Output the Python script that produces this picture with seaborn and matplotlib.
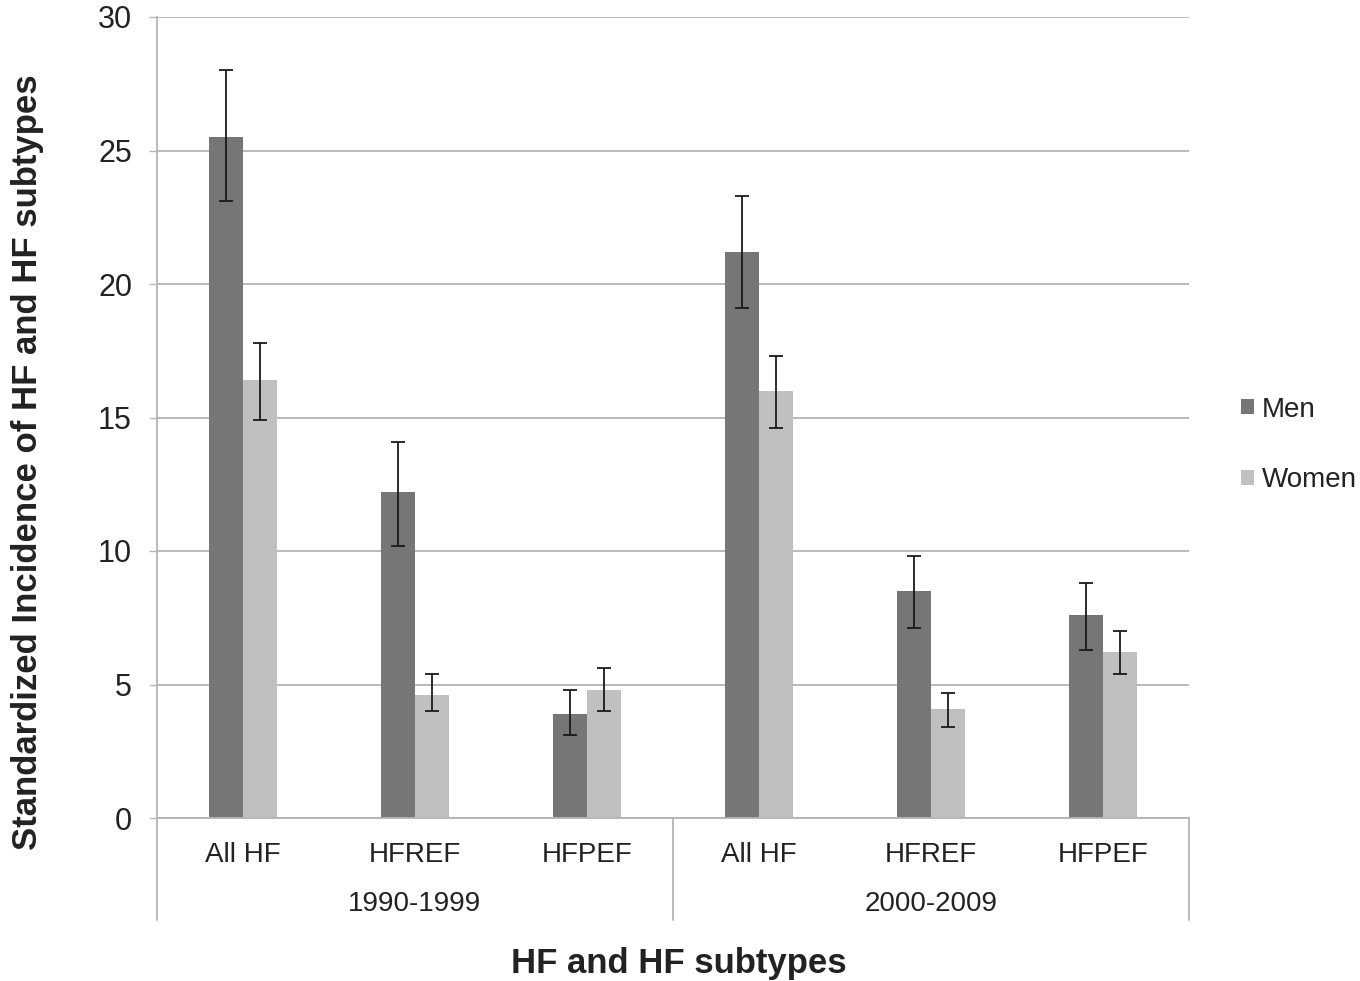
import matplotlib
matplotlib.use("Agg")
import matplotlib.pyplot as plt
import seaborn as sns
import pandas as pd
from matplotlib.transforms import blended_transform_factory

# ---- data ----
periods = ["1990-1999", "2000-2009"]
subtypes = ["All HF", "HFREF", "HFPEF"]
sexes = ["Men", "Women"]
men_values = [25.5, 12.2, 3.9, 21.2, 8.5, 7.6]
men_low = [23.1, 10.2, 3.1, 19.1, 7.1, 6.3]
men_high = [28.0, 14.1, 4.8, 23.3, 9.8, 8.8]
women_values = [16.4, 4.6, 4.8, 16.0, 4.1, 6.2]
women_low = [14.9, 4.0, 4.0, 14.6, 3.4, 5.4]
women_high = [17.8, 5.4, 5.6, 17.3, 4.7, 7.0]
y_ticks = [0, 5, 10, 15, 20, 25, 30]

colors = {"Men": "#767676", "Women": "#c0c0c0"}

keys = [f"{p}|{s}" for p in periods for s in subtypes]
rows = []
for i, k in enumerate(keys):
    rows.append({"key": k, "sex": "Men", "value": men_values[i], "lo": men_low[i], "hi": men_high[i]})
    rows.append({"key": k, "sex": "Women", "value": women_values[i], "lo": women_low[i], "hi": women_high[i]})
df = pd.DataFrame(rows)

sns.set_theme(style="white")
plt.rcParams["font.family"] = ["Liberation Sans", "DejaVu Sans"]

fig = plt.figure(figsize=(13.6, 9.81), dpi=100)
ax = fig.add_axes([157/1360, 1-818/981, (1189-157)/1360, (818-17)/981])

sns.barplot(data=df, x="key", y="value", hue="sex", order=keys, hue_order=sexes,
            palette=colors, width=0.4, errorbar=None, ax=ax, legend=True,
            saturation=1, linewidth=0)

# error bars from bar positions
for sex, cont in zip(sexes, ax.containers):
    sub = df[df.sex == sex].set_index("key").loc[keys]
    xs = [p.get_x() + p.get_width()/2 for p in cont.patches]
    vals = sub["value"].values
    lo = vals - sub["lo"].values
    hi = sub["hi"].values - vals
    ax.errorbar(xs, vals, yerr=[lo, hi], fmt="none", ecolor="#1a1a1a",
                elinewidth=1.3, capsize=5, capthick=1.3, zorder=5)

txt = "#222222"
ax.set_ylim(0, 30)
ax.set_xlim(-0.5, len(keys) - 0.5)
ax.set_yticks(y_ticks)
ax.set_yticklabels([str(t) for t in y_ticks], fontsize=22, color=txt)
ax.yaxis.grid(True, color="#b4b4b4", linewidth=1.3)
ax.set_axisbelow(True)
ax.set_xticks(range(len(keys)))
ax.set_xticklabels([k.split("|")[1] for k in keys], fontsize=20, color=txt)
ax.tick_params(axis="x", length=0, pad=17)
ax.tick_params(axis="y", length=6, width=1, color="#b4b4b4", left=True, pad=12)
for s in ["top", "right"]:
    ax.spines[s].set_visible(False)
for s in ["left", "bottom"]:
    ax.spines[s].set_color("#b4b4b4")
    ax.spines[s].set_linewidth(1.3)
ax.set_xlabel("")
ax.set_ylabel("")

# group separators and labels
trans = blended_transform_factory(ax.transData, ax.transAxes)
drop = (920 - 818) / 801
for xv in [-0.5, 2.5, 5.5]:
    ax.plot([xv, xv], [0, -drop], transform=trans, color="#b4b4b4", linewidth=1.3, clip_on=False)
for gi, p in enumerate(periods):
    ax.text(gi*3 + 1, -(904 - 818)/801, p, transform=trans, ha="center", va="center",
            fontsize=20, color=txt)

fig.text(679/1360, 1 - 963/981, "HF and HF subtypes",
         ha="center", va="center", fontsize=25, fontweight="bold", color=txt)
fig.text(28/1360, 1 - 462/981, "Standardized Incidence of HF and HF subtypes", rotation=90,
         ha="center", va="center", fontsize=25, fontweight="bold", color=txt)

leg = ax.legend(loc="center left", bbox_to_anchor=(1241/1360, 1 - 445/981),
                bbox_transform=fig.transFigure, frameon=False, fontsize=20,
                handlelength=0.45, handleheight=0.45, handletextpad=0.3, labelspacing=1.6,
                borderaxespad=0, borderpad=0)
for t in leg.get_texts():
    t.set_color(txt)

fig.savefig("out.png", dpi=100)
